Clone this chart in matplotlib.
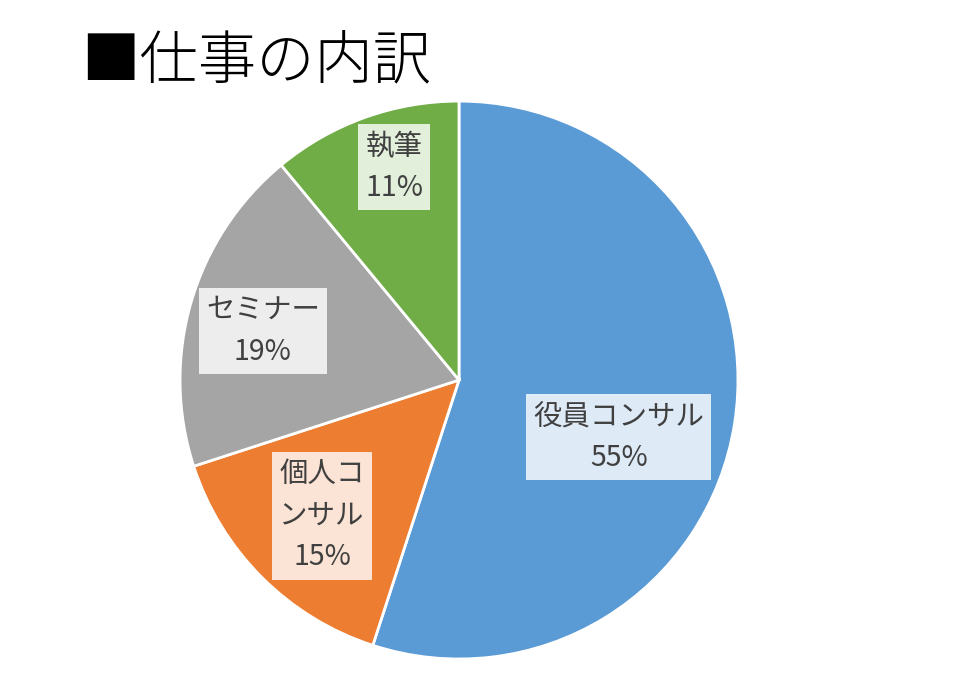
import matplotlib
matplotlib.use("Agg")
import matplotlib.pyplot as plt

plt.rcParams['font.family'] = ['Noto Sans CJK JP', 'DejaVu Sans']

labels = ["役員コンサル", "個人コンサル", "セミナー", "執筆"]
label_text = ["役員コンサル", "個人コ\nンサル", "セミナー", "執筆"]
values = [55, 15, 19, 11]
colors = ["#5B9BD5", "#ED7D31", "#A5A5A5", "#70AD47"]
box_colors = ["#DEEAF6", "#FBE4D5", "#EDEDED", "#E2EFDA"]
# label centres (fraction of radius), Excel best-fit style placement
label_pos = [(0.573, -0.204), (-0.491, -0.487), (-0.703, 0.176), (-0.233, 0.763)]

fig = plt.figure(figsize=(9.6, 6.73), dpi=100)
ax = fig.add_axes([0.1875, 0.0208, 0.58125, 0.829])

wedges, _ = ax.pie(values, colors=colors, startangle=90, counterclock=False,
                   wedgeprops=dict(edgecolor="white", linewidth=2))
ax.set_xlim(-1, 1)
ax.set_ylim(-1, 1)
ax.set_aspect("equal")

for txt, v, (x, y), bc in zip(label_text, values, label_pos, box_colors):
    ax.text(x, y, f"{txt}\n{v}%", ha="center", va="center", fontsize=20.5,
            color="#404040", linespacing=1.5, multialignment="center",
            bbox=dict(boxstyle="square,pad=0.25", facecolor=bc, edgecolor="none"))

fig.text(0.085, 0.907, "■仕事の内訳", fontsize=42, fontweight="light",
         ha="left", va="center", color="black")

fig.savefig("out.png", dpi=100)
